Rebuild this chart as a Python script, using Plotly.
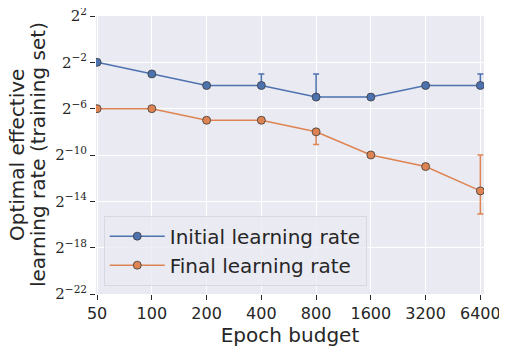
import numpy as np
import plotly.graph_objects as go

# epoch budgets (x) and optimal learning rates, stored as powers of two
epochs = [50, 100, 200, 400, 800, 1600, 3200, 6400]
init_exp = [-2, -3, -4, -4, -5, -5, -4, -4]
init_err_up_exp = [-2, -3, -4, -3, -3, -5, -4, -3]
final_exp = [-6, -6, -7, -7, -8, -10, -11, -13.1]
final_err_lo_exp = [-6, -6, -7, -7, -9.1, -10, -11, -15.1]
final_err_hi_exp = [-6, -6, -7, -7, -8, -10, -11, -10]

y_tick_exp = [2, -2, -6, -10, -14, -18, -22]
y_title_lines = ["Optimal effective", "learning rate (training set)"]

blue = "#4c72b0"
orange = "#dd8452"

init_y = np.power(2.0, init_exp)
final_y = np.power(2.0, final_exp)

fig = go.Figure()

fig.add_trace(go.Scatter(
    x=epochs,
    y=init_y,
    mode="lines+markers",
    name="Initial learning rate",
    line={"color": blue, "width": 1.5},
    marker={"size": 8, "color": blue, "line": {"color": "#3a3a3a", "width": 0.8}},
    error_y={
        "type": "data",
        "symmetric": False,
        "array": np.power(2.0, init_err_up_exp) - init_y,
        "arrayminus": np.zeros(len(epochs)),
        "color": blue,
        "thickness": 1.5,
        "width": 3,
    },
))

fig.add_trace(go.Scatter(
    x=epochs,
    y=final_y,
    mode="lines+markers",
    name="Final learning rate",
    line={"color": orange, "width": 1.5},
    marker={"size": 8, "color": orange, "line": {"color": "#3a3a3a", "width": 0.8}},
    error_y={
        "type": "data",
        "symmetric": False,
        "array": np.power(2.0, final_err_hi_exp) - final_y,
        "arrayminus": final_y - np.power(2.0, final_err_lo_exp),
        "color": orange,
        "thickness": 1.5,
        "width": 3,
    },
))

# the page body has an 8px margin, so the figure is sized to fit inside the window
fig.update_layout(
    width=499,
    height=343,
    margin={"l": 88, "r": 23, "t": 8, "b": 57},
    paper_bgcolor="white",
    plot_bgcolor="#eaeaf2",
    font={"family": "DejaVu Sans", "color": "#262626"},
    legend={
        "x": 0.02,
        "y": 0.03,
        "xanchor": "left",
        "yanchor": "bottom",
        "bgcolor": "rgba(234,234,242,0.8)",
        "bordercolor": "#d8d8e0",
        "borderwidth": 1,
        "font": {"size": 20},
        "itemwidth": 55,
    },
)

# y title: one annotation per line, for tighter line spacing
for line_text, shift in zip(y_title_lines, [-79, -58]):
    fig.add_annotation(
        text=line_text,
        textangle=-90,
        xref="paper",
        yref="paper",
        x=0,
        y=0.5,
        xanchor="center",
        yanchor="middle",
        xshift=shift,
        showarrow=False,
        font={"size": 20},
    )

fig.update_xaxes(
    type="log",
    range=[np.log10(50) - 0.006, np.log10(6400) + 0.02],
    tickvals=epochs,
    ticktext=[str(e) for e in epochs],
    tickfont={"size": 16},
    ticks="outside",
    ticklen=5,
    tickcolor="#262626",
    ticklabeloverflow="allow",
    showgrid=True,
    gridcolor="white",
    gridwidth=1,
    zeroline=False,
    automargin=False,
    title={"text": "Epoch budget", "font": {"size": 20}, "standoff": 2},
)

fig.update_yaxes(
    type="log",
    range=[np.log10(2.0 ** -22) - 1e-9, np.log10(2.0 ** 2) + 1e-9],
    tickvals=[2.0 ** k for k in y_tick_exp],
    ticktext=[f"2<sup>{k}</sup>".replace("-", "\u2212") for k in y_tick_exp],
    tickfont={"size": 15, "family": "DejaVu Serif"},
    ticks="outside",
    ticklen=5,
    tickcolor="#262626",
    ticklabeloverflow="allow",
    showgrid=True,
    gridcolor="white",
    gridwidth=1,
    zeroline=False,
    automargin=False,
)

fig.write_html("out.html")
